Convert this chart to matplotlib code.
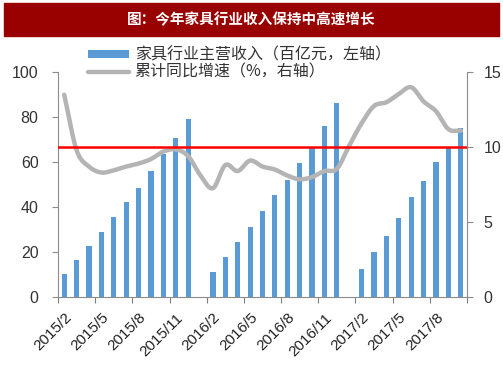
import numpy as np
import matplotlib.pyplot as plt
from matplotlib.patches import Rectangle

plt.rcParams['font.family'] = ['Liberation Sans', 'Noto Sans CJK SC', 'DejaVu Sans']

# monthly categories 2015/2 .. 2017/10
months = []
for y, m0, m1 in [(2015, 2, 12), (2016, 1, 12), (2017, 1, 10)]:
    for m in range(m0, m1 + 1):
        months.append('%d/%d' % (y, m))

# 主营收入 (百亿元), January has no data
revenue = [10.0, 16.5, 22.4, 28.7, 35.5, 42.1, 48.6, 56.0, 63.4, 70.7, 79.0,
           np.nan, 10.8, 17.8, 24.4, 30.9, 38.2, 45.2, 52.2, 59.6, 66.7, 76.2, 86.2,
           np.nan, 12.2, 19.9, 27.0, 34.9, 44.3, 51.7, 60.0, 66.9, 75.3]

# 累计同比增速 (%)
growth = [13.5, 9.8, 8.7, 8.3, 8.45, 8.7, 8.9, 9.2, 9.7, 9.85, 9.4,
          8.1, 7.25, 8.8, 8.4, 9.1, 8.7, 8.5, 8.1, 7.85, 8.0, 8.4, 8.55,
          10.1, 11.6, 12.75, 13.0, 13.55, 14.0, 13.05, 12.4, 11.2, 11.1]

label_idx = list(range(0, 31, 3))
tick_labels = [months[i] for i in label_idx]


def smooth(x, y, n=12):
    # catmull-rom curve through the points, like excel's smoothed line
    x = np.asarray(x, float)
    y = np.asarray(y, float)
    px = np.concatenate([[2 * x[0] - x[1]], x, [2 * x[-1] - x[-2]]])
    py = np.concatenate([[2 * y[0] - y[1]], y, [2 * y[-1] - y[-2]]])
    xs, ys = [], []
    t = np.linspace(0, 1, n, endpoint=False)
    for i in range(1, len(px) - 2):
        for p, out in ((px, xs), (py, ys)):
            p0, p1, p2, p3 = p[i - 1], p[i], p[i + 1], p[i + 2]
            out.extend(0.5 * (2 * p1 + (-p0 + p2) * t
                              + (2 * p0 - 5 * p1 + 4 * p2 - p3) * t ** 2
                              + (-p0 + 3 * p1 - 3 * p2 + p3) * t ** 3))
    xs.append(x[-1])
    ys.append(y[-1])
    return np.array(xs), np.array(ys)


fig = plt.figure(figsize=(5.03, 3.78), dpi=100)

# title bar
fig.patches.append(Rectangle((4 / 503, 1 - 36 / 378), 495 / 503, 33 / 378,
                             transform=fig.transFigure, color='#990000', zorder=0))
fig.text(0.5, 1 - 19.5 / 378, '图：今年家具行业收入保持中高速增长', color='white',
         fontsize=10.5, fontweight='bold', ha='center', va='center',
         family=['Noto Sans CJK SC'])

ax = fig.add_axes([58 / 503, 1 - 296.7 / 378, 409 / 503, 224.4 / 378])
ax2 = ax.twinx()

x = np.arange(len(months))
bars = ax.bar(x, revenue, width=0.42, color='#5B9BD5', zorder=2,
              label='家具行业主营收入（百亿元，左轴）')
sx, sy = smooth(x, growth)
line, = ax2.plot(sx, sy, color='#B4B4B4', lw=3.2, solid_capstyle='round',
                 label='累计同比增速（%，右轴）')
ax2.axhline(10, color='#FF0000', lw=1.8, zorder=5)

ax.set_xlim(-0.5, len(months) - 0.5)
ax.set_ylim(0, 100)
ax2.set_ylim(0, 15)
ax.set_yticks(range(0, 101, 20))
ax2.set_yticks([0, 5, 10, 15])

ax.set_xticks(np.arange(-0.5, len(months), 3))
ax.set_xticklabels([])
ax.set_xticks(label_idx, minor=True)
ax.set_xticklabels(tick_labels, minor=True, rotation=45, ha='right',
                   rotation_mode='anchor', fontsize=11, color='#222222')
ax.tick_params(axis='x', which='minor', length=0, pad=10)
ax.tick_params(axis='x', which='major', length=4, color='#7F7F7F')

for a in (ax, ax2):
    a.spines['top'].set_visible(False)
    for s in ('left', 'right', 'bottom'):
        a.spines[s].set_color('#8C8C8C')
    a.tick_params(axis='y', labelsize=11.5, colors='#333333', length=4)
    a.tick_params(axis='y', color='#8C8C8C')
ax.tick_params(axis='y', pad=10)
ax2.tick_params(axis='y', pad=8)
ax.spines['right'].set_visible(False)
ax2.spines['left'].set_visible(False)
ax2.spines['bottom'].set_visible(False)

fig.legend([bars, line], [bars.get_label(), line.get_label()],
           loc='upper left', bbox_to_anchor=(78 / 503, 1 - 37 / 378),
           frameon=False, handlelength=2.6, handleheight=0.4,
           labelspacing=0.0, borderpad=0.1, handletextpad=0.35,
           labelcolor='#333333',
           prop={'family': ['Noto Sans CJK SC'], 'size': 11.5})

fig.savefig('out.png', dpi=100)
